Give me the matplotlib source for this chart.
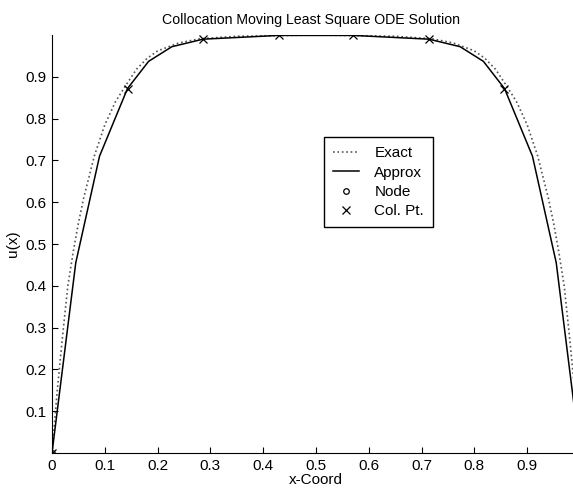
import numpy as np
import matplotlib.pyplot as plt

plt.rcParams['font.family'] = ['Liberation Sans', 'DejaVu Sans']

# exact solution (dotted)
x_exact = [0, 0.01, 0.02, 0.03, 0.04, 0.05, 0.06, 0.08, 0.10, 0.12, 0.14, 0.16,
           0.18, 0.20, 0.24, 0.28, 0.35, 0.5,
           0.65, 0.72, 0.76, 0.80, 0.82, 0.84, 0.86, 0.88, 0.90, 0.92, 0.94,
           0.95, 0.96, 0.97, 0.98, 0.99, 1.0]
u_exact = [0, 0.15, 0.28, 0.40, 0.48, 0.55, 0.61, 0.71, 0.785, 0.84, 0.88, 0.918,
           0.944, 0.962, 0.981, 0.991, 0.997, 1.0,
           0.997, 0.991, 0.981, 0.962, 0.944, 0.918, 0.88, 0.84, 0.785, 0.71, 0.61,
           0.55, 0.48, 0.40, 0.28, 0.15, 0]

# approximate solution (solid)
x_approx = [0, 0.045, 0.09, 0.143, 0.183, 0.227, 0.286, 0.429, 0.571, 0.714,
            0.773, 0.817, 0.857, 0.91, 0.955, 1.0]
u_approx = [0, 0.455, 0.71, 0.872, 0.937, 0.972, 0.99, 0.999, 0.999, 0.99,
            0.972, 0.937, 0.872, 0.71, 0.455, 0]

# nodes and collocation points
x_node = [0, 1.0]
u_node = [0, 0]
x_col = [0, 0.143, 0.286, 0.429, 0.571, 0.714, 0.857, 1.0]
u_col = [0, 0.872, 0.99, 0.999, 0.999, 0.99, 0.872, 0]

fig = plt.figure(figsize=(5.73, 4.88), dpi=100)
ax = fig.add_axes([52/573, 35/488, 528/573, 418/488])

ax.plot(x_exact, u_exact, ':', color='#555555', lw=1.2, label='Exact')
ax.plot(x_approx, u_approx, '-', color='black', lw=1.1, label='Approx')
ax.plot(x_node, u_node, 'o', color='black', ms=4, mfc='none', mew=0.9, label='Node')
ax.plot(x_col, u_col, 'x', color='black', ms=6, mew=0.9, label='Col. Pt.')

ax.set_xlim(0, 1)
ax.set_ylim(0, 1)
ax.set_xticks(np.arange(0, 1.0, 0.1))
ax.set_xticklabels(['0', '0.1', '0.2', '0.3', '0.4', '0.5', '0.6', '0.7', '0.8', '0.9'])
ax.set_yticks(np.arange(0.1, 1.0, 0.1))
ax.set_yticklabels(['0.1', '0.2', '0.3', '0.4', '0.5', '0.6', '0.7', '0.8', '0.9'])
ax.tick_params(direction='in', length=4, labelsize=11, pad=4)
ax.spines['top'].set_visible(False)
ax.spines['right'].set_visible(False)

ax.set_title('Collocation Moving Least Square ODE Solution', fontsize=10.2, x=0.49, pad=8)
ax.set_xlabel('x-Coord', fontsize=11, labelpad=0)
ax.set_ylabel('u(x)', fontsize=11, labelpad=4)

ax.legend(loc='upper left', bbox_to_anchor=(0.515, 0.756), borderaxespad=0, fontsize=11,
          fancybox=False, edgecolor='black', framealpha=1, handlelength=1.7,
          borderpad=0.6, labelspacing=0.35, handletextpad=1.0)

fig.savefig('out.png', dpi=100)
